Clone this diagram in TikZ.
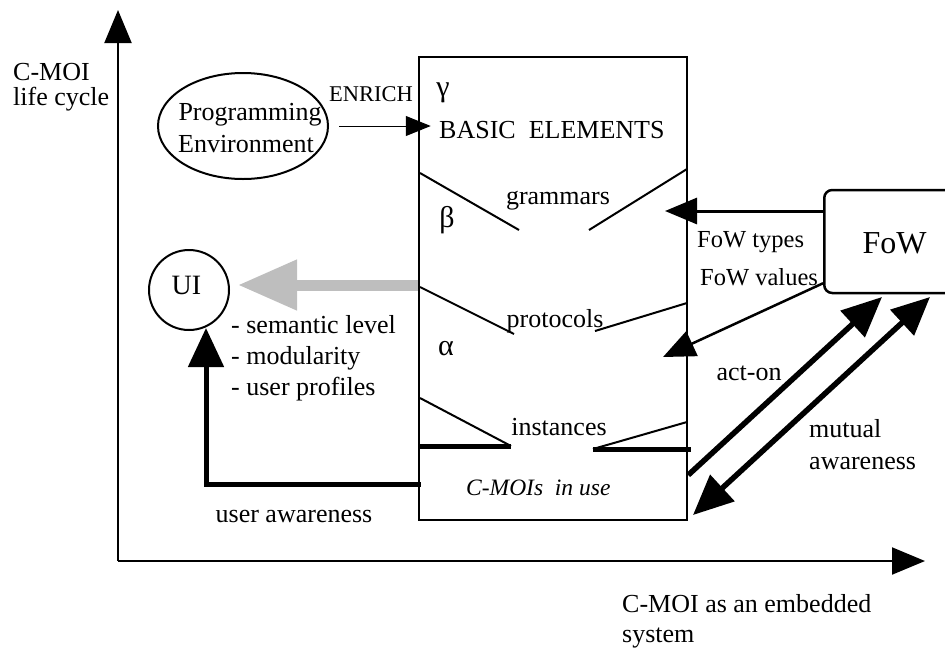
\documentclass[tikz,border=0pt]{standalone}
\usepackage{fontspec}
\setmainfont{Liberation Serif}
\usetikzlibrary{arrows.meta,shapes.geometric}

\begin{document}
\begin{tikzpicture}[x=1pt,y=-1pt,
  txt/.style={inner sep=0pt, font=\fontsize{26}{31}\selectfont},
  greek/.style={inner sep=0pt, font=\fontsize{30}{34}\selectfont},
  smalltxt/.style={inner sep=0pt, font=\fontsize{24.5}{29}\selectfont},
  axis/.style={line width=2pt, -{Triangle[length=33pt,width=27pt]}},
  divider/.style={line width=2pt},
  bar/.style={line width=5pt},
  enrich/.style={line width=1pt, -{Triangle[length=25pt,width=20pt]}},
  feedback/.style={line width=11pt, draw={rgb,255:red,190;green,190;blue,190}, fill={rgb,255:red,190;green,190;blue,190},
    -{Triangle[length=59pt,width=48pt]}},
  heavy/.style={line width=5pt, -{Triangle[length=39pt,width=35pt]}},
  fowlink/.style={line width=3pt, -{Triangle[length=32pt,width=26pt]}},
  fowval/.style={line width=2.5pt, -{Triangle[length=32pt,width=27pt]}},
  acton/.style={line width=5.5pt, -{Triangle[length=40pt,width=35pt]}},
  mutual/.style={line width=5.5pt, {Triangle[length=38pt,width=34pt]}-{Triangle[length=40pt,width=35pt]}}
]
\useasboundingbox (0,0) rectangle (945,649);
\clip (0,0) rectangle (945,649);

% axes
\coordinate (origin) at (118,561);
\coordinate (ytop) at (118,10);
\coordinate (xend) at (925,561);
\draw[axis] (origin) -- (ytop);
\draw[axis] (origin) -- (xend);
\node[txt, anchor=base west] (ylab1) at (13,80) {C-MOI};
\node[txt, anchor=base west] (ylab2) at (13,105) {life cycle};
\node[txt, anchor=base west] (xlab1) at (622,612) {C-MOI as an embedded};
\node[txt, anchor=base west] (xlab2) at (622,642) {system};

% the C-MOI block
\node[draw, line width=2.5pt, minimum width=268pt, minimum height=463pt, inner sep=0pt] (core) at (553,288.5) {};
\node[greek, anchor=base] (gamma) at (443,96) {γ};
\node[txt, anchor=base west] (basic) at (439,138) {BASIC\ \ ELEMENTS};
\draw[divider] (420,173) -- (519,230);
\draw[divider] (687,169) -- (589,230);
\node[txt, anchor=base] (gram) at (558,204) {grammars};
\node[greek, anchor=base] (beta) at (447,227) {β};
\draw[divider] (420,287) -- (514,334);
\draw[divider] (687,303) -- (595,331);
\node[txt, anchor=base] (proto) at (555,327) {protocols};
\node[greek, anchor=base] (alpha) at (446,355) {α};
\draw[divider] (420,398) -- (511,446);
\draw[bar] (420,446.5) -- (511,446.5);
\draw[divider] (687,422) -- (593,449);
\draw[bar] (593,449.5) -- (691,449.5);
\node[txt, anchor=base] (inst) at (559,435) {instances};
\node[inner sep=0pt, font=\fontsize{23.5}{28}\selectfont\itshape, anchor=base west] (inuse) at (466,495) {C-MOIs\ \ in use};

% programming environment
\node[draw, ellipse, line width=2pt, minimum width=170pt, minimum height=106pt, inner sep=0pt] (progenv) at (243,126) {};
\node[txt, anchor=base] (prog1) at (250,120) {Programming};
\node[txt, anchor=base] (prog2) at (246,152) {Environment};
\draw[enrich] ([xshift=10pt]progenv.east) -- ([xshift=13pt]core.west |- progenv.east);
\node[smalltxt, font=\fontsize{22.5}{27}\selectfont, anchor=base] (enrichlab) at (371,101) {ENRICH};

% user interface
\node[draw, circle, line width=2pt, minimum size=80pt, inner sep=0pt] (ui) at (189,290) {};
\node[inner sep=0pt, font=\fontsize{28}{33}\selectfont, anchor=base] (uilab) at (186.5,294) {UI};
\coordinate (uiin) at (238,285);
\draw[feedback] (core.west |- uiin) -- (uiin);
\node[txt, anchor=base west] (ui1) at (231,333) {- semantic level};
\node[txt, anchor=base west] (ui2) at (231,364) {- modularity};
\node[txt, anchor=base west] (ui3) at (231,395) {- user profiles};
\coordinate (uabend) at (206,484);
\draw[heavy] ([xshift=3pt]core.west |- uabend) -- (uabend) -- (uabend |- 0,328);
\node[txt, anchor=base] (ualab) at (294,522) {user awareness};

% field of work (box runs past the right edge of the page)
\node[draw, rounded corners=8pt, line width=2.5pt, minimum width=200pt, minimum height=103pt, inner sep=0pt,
  anchor=west] (fow) at (823,241.5) {};
\node[inner sep=0pt, font=\fontsize{32}{38}\selectfont, anchor=base] (fowlab) at (894.5,253) {FoW};
\coordinate (typestip) at (665,211);
\draw[fowlink] (fow.west |- typestip) -- (typestip);
\node[smalltxt, anchor=base west] (typeslab) at (697,247) {FoW types};
\coordinate (valtip) at (663,357);
\draw[fowval] ([yshift=11pt]fow.south west) -- (valtip);
\node[smalltxt, anchor=base west] (valslab) at (700,285) {FoW values};

\coordinate (acttip) at (882,297);
\draw[acton] (core.east |- 0,475) -- (acttip);
\node[txt, anchor=base] (actlab) at (749,380) {act-on};
\coordinate (mutualtop) at (930,297);
\coordinate (mutualbot) at (693,515);
\draw[mutual] (mutualtop) -- (mutualbot);
\node[txt, anchor=base west] (mut1) at (809,437) {mutual};
\node[txt, anchor=base west] (mut2) at (809,469) {awareness};
\end{tikzpicture}
\end{document}
